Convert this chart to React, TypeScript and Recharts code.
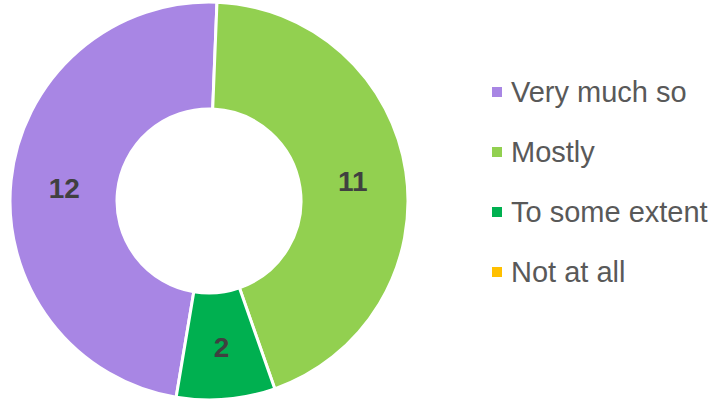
import React from 'react';
import { PieChart, Pie, Cell, Legend } from 'recharts';

const categories = ['Very much so', 'Mostly', 'To some extent', 'Not at all'];
const counts = [12, 11, 2, 0];
const colors = ['#A886E4', '#92D050', '#00B050', '#FFC000'];

const data = categories.map((name, i) => ({ name, value: counts[i] }));

const RAD = Math.PI / 180;

const renderLabel = (props: any) => {
  const { cx, cy, midAngle, innerRadius, outerRadius, value } = props;
  if (!value) return null;
  const r = (innerRadius + outerRadius) / 2;
  const x = cx + r * Math.cos(-midAngle * RAD);
  const y = cy + r * Math.sin(-midAngle * RAD);
  return (
    <text x={x} y={y + 2} fill="#404040" fontSize={28} fontWeight="bold"
      fontFamily="'Liberation Sans', Arial, sans-serif" textAnchor="middle" dominantBaseline="central">
      {value}
    </text>
  );
};

const renderLegend = () => (
  <div style={{ fontFamily: "'Liberation Sans', Arial, sans-serif" }}>
    {categories.map((c, i) => (
      <div key={c} style={{ display: 'flex', alignItems: 'center', height: 60 }}>
        <span style={{ width: 10, height: 10, background: colors[i], marginRight: 9, display: 'inline-block' }} />
        <span style={{ fontSize: 29, color: '#595959', whiteSpace: 'nowrap' }}>{c}</span>
      </div>
    ))}
  </div>
);

export default function App() {
  return (
    <div style={{ position: 'absolute', left: 0, top: 0, width: 717, height: 402, background: '#fff' }}>
      <PieChart width={717} height={402} margin={{ top: 0, right: 0, bottom: 0, left: 0 }}>
        <Pie
          data={data}
          dataKey="value"
          nameKey="name"
          cx={209}
          cy={201}
          innerRadius={92}
          outerRadius={199}
          startAngle={-99.5}
          endAngle={-459.5}
          stroke="#ffffff"
          strokeWidth={3}
          label={renderLabel}
          labelLine={false}
          isAnimationActive={false}
        >
          {data.map((d, i) => (
            <Cell key={d.name} fill={colors[i]} />
          ))}
        </Pie>
        <Legend
          layout="vertical"
          align="right"
          verticalAlign="top"
          content={renderLegend}
          wrapperStyle={{ left: 492, top: 62, width: 225 }}
        />
      </PieChart>
    </div>
  );
}
